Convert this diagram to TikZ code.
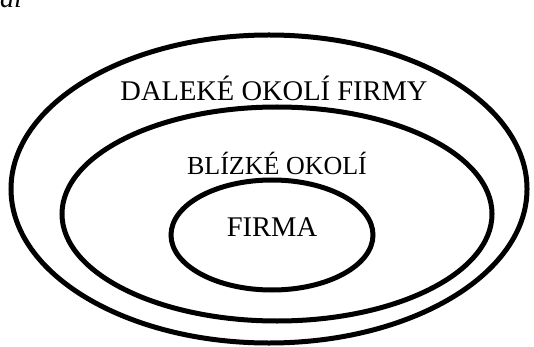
\documentclass[tikz,border=0pt]{standalone}
\usepackage{fontspec}
\setmainfont{Liberation Serif}
\usetikzlibrary{positioning}

\begin{document}
\begin{tikzpicture}[
  x=1pt,y=-1pt,
  ring/.style={line width=5pt},
  label/.style={anchor=base,inner sep=0pt,font=\fontsize{28.5}{30}\selectfont}
]
  \useasboundingbox (0,0) rectangle (534,347);
  \node[anchor=base west,inner sep=0pt,font=\fontsize{28}{30}\itshape] (cut) at (0,8) {ai};

  \draw[ring] (269,189) ellipse [x radius=258,y radius=154];
  \draw[ring] (277,214) ellipse [x radius=215,y radius=107];
  \draw[ring] (272,235) ellipse [x radius=101,y radius=55];

  \node[label] (far) at (274,101) {DALEKÉ OKOLÍ FIRMY};
  \node[label,font=\fontsize{26}{28}\selectfont] (near) at (277,175) {BLÍZKÉ OKOLÍ};
  \node[label] (firm) at (272,236) {FIRMA};
\end{tikzpicture}
\end{document}
